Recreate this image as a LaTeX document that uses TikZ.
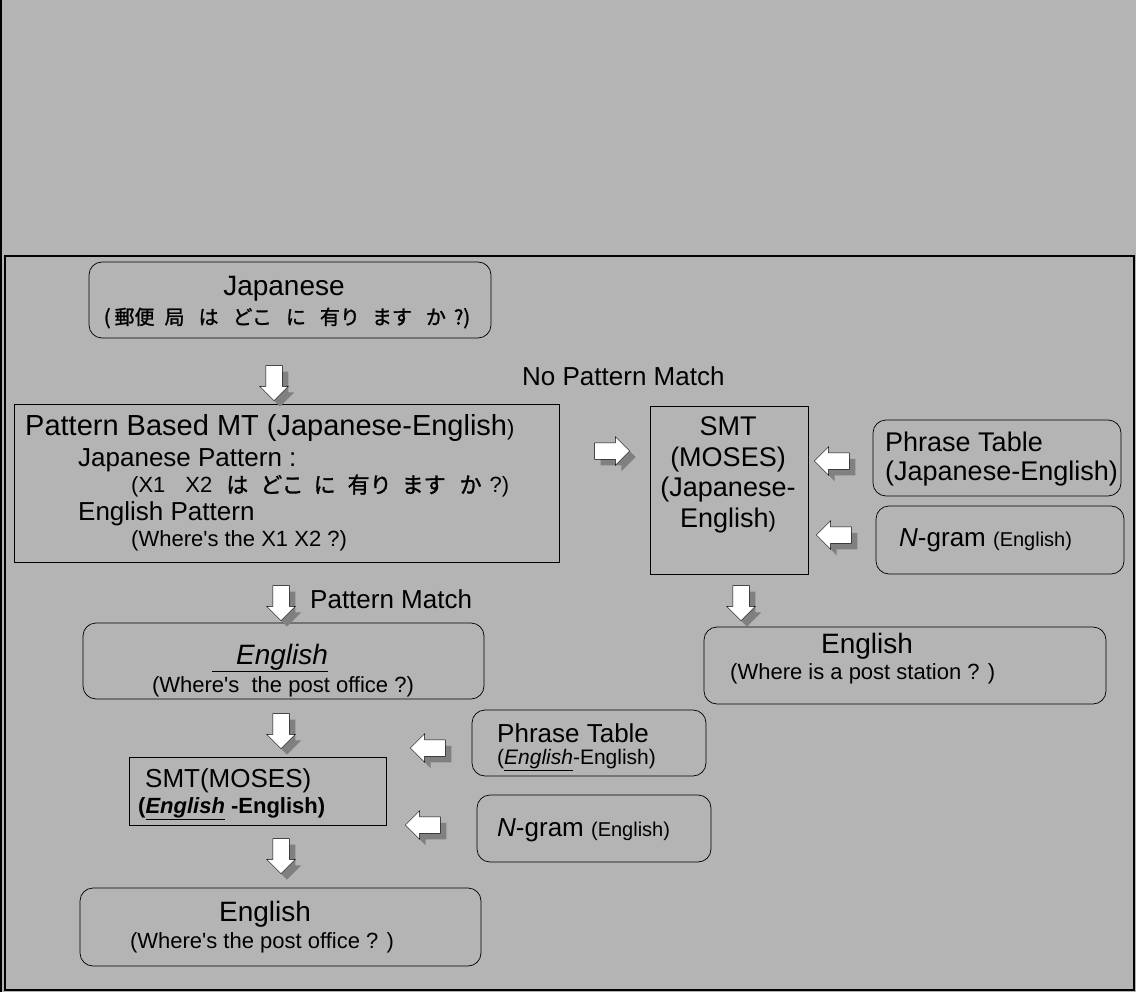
\documentclass[tikz,border=0pt]{standalone}
\usepackage{fontspec}
\setmainfont{Liberation Sans}
\newfontfamily\jpfont{Noto Sans CJK JP}[FakeBold=1.3]
\usepackage{tikz}
\usetikzlibrary{shapes.arrows,shadows}
\definecolor{bggray}{RGB}{180,180,180}
\newcommand{\apos}{\textquotesingle}

\begin{document}
\begin{tikzpicture}[
x=1pt, y=-1pt,
sharpbox/.style={draw, line width=0.7pt, inner sep=0pt},
softbox/.style={draw, line width=0.7pt, inner sep=0pt, rounded corners=13pt},
bigtxt/.style={font=\fontsize{28}{31}\selectfont, inner sep=0pt},
midtxt/.style={font=\fontsize{26}{29}\selectfont, inner sep=0pt},
smalltxt/.style={font=\fontsize{22}{25}\selectfont, inner sep=0pt},
blockarrow/.style={single arrow, draw=black, fill=white, line width=0.5pt,
  inner sep=8pt, minimum height=35pt,
  single arrow head extend=6pt, single arrow head indent=0pt,
  drop shadow={shadow xshift=6pt, shadow yshift=-6pt, fill=black!50, draw=none, opacity=1}},
downarrow/.style={blockarrow, shape border rotate=270},
leftarrow/.style={blockarrow, shape border rotate=180},
rightarrow/.style={blockarrow, shape border rotate=0} ]

\useasboundingbox (0,0) rectangle (1136,992);
\fill[bggray] (0,0) rectangle (1136,992);
\draw[line width=2pt] (1,0) -- (1,992);
\draw[line width=1.3pt] (5,256) rectangle (1134,990);

% boxes
\node[softbox, minimum width=402pt, minimum height=76pt] (jpbox) at (290,300) {};
\node[sharpbox, minimum width=545pt, minimum height=158pt] (pbmt) at (286.5,483) {};
\node[sharpbox, minimum width=158pt, minimum height=168pt] (smtje) at (729,490) {};
\node[softbox, minimum width=248pt, minimum height=76pt] (ptje) at (997,458) {};
\node[softbox, minimum width=248pt, minimum height=68pt] (ngje) at (1000,540) {};
\node[softbox, minimum width=402pt, minimum height=77pt] (enpost) at (905,665.5) {};
\node[softbox, minimum width=401pt, minimum height=76pt] (enmid) at (283.5,661) {};
\node[sharpbox, minimum width=257pt, minimum height=68pt] (smtee) at (257.5,791) {};
\node[softbox, minimum width=234pt, minimum height=66pt] (ptee) at (589,743) {};
\node[softbox, minimum width=234pt, minimum height=67pt] (ngee) at (594,828.5) {};
\node[softbox, minimum width=401pt, minimum height=78pt] (enout) at (280.5,927) {};

% texts
\node[bigtxt] (jptitle) at (284,289) {Japanese};
\node[font=\jpfont\fontsize{20}{24}\selectfont, inner sep=0pt] (jpline) at (287,318)
  {(\hspace{4pt}郵便\hspace{10pt}局\hspace{14pt}は\hspace{14pt}どこ\hspace{14pt}に\hspace{14pt}有り\hspace{12pt}ます\hspace{14pt}か\hspace{8pt}?)};
\node[midtxt, anchor=west] (nomatch) at (522,376) {No Pattern Match};
\node[font=\fontsize{29}{32}\selectfont, inner sep=0pt, anchor=west] (pbtitle) at (25,428)
  {Pattern Based MT (Japanese-English{\fontsize{22}{25}\selectfont)}};
\node[midtxt, anchor=west] (jppat) at (78,460) {Japanese Pattern :};
\node[smalltxt, anchor=west] (jppatx) at (131,486)
  {(X1\hspace{20pt}X2\hspace{14pt}{\jpfont は\hspace{12pt}どこ\hspace{10pt}に\hspace{12pt}有り\hspace{10pt}ます\hspace{14pt}か}\hspace{8pt}?)};
\node[midtxt, anchor=west] (enpat) at (78,514) {English Pattern};
\node[smalltxt, anchor=west] (enpatx) at (131,541) {(Where\apos s the X1 X2 ?)};

\node[font=\fontsize{27}{30.5}\selectfont, inner sep=0pt, align=center] (smtjet) at (728,475)
  {SMT\\(MOSES)\\(Japanese-\\English{\fontsize{22}{25}\selectfont)}};
\node[font=\fontsize{27}{29}\selectfont, inner sep=0pt, align=left, anchor=west] (ptjet) at (885,459.5)
  {Phrase Table\\(Japanese-English)};
\node[inner sep=0pt, anchor=west] (ngjet) at (899,540)
  {\fontsize{26}{29}\selectfont\textit{N}-gram {\fontsize{20}{24}\selectfont(English)}};

\node[bigtxt] (enpostt) at (867,646) {English};
\node[smalltxt, anchor=west] (enpostx) at (730,674) {(Where is a post station ? )};

\node[midtxt, anchor=west] (match) at (310,599) {Pattern Match};
\node[bigtxt] (enmidt) at (270,658) {\underline{\hspace{24pt}\textit{English}}};
\node[smalltxt] (enmidx) at (283,687) {(Where\apos s\ \ the post office ?)};

\node[midtxt, anchor=west] (smteet) at (145,781) {SMT(MOSES)};
\node[smalltxt, anchor=west] (smteex) at (138,809)
  {\bfseries(\underline{\textit{English}} -English)};
\node[midtxt, anchor=west] (pteet) at (497,733) {Phrase Table};
\node[font=\fontsize{21}{24}\selectfont, inner sep=0pt, anchor=west] (pteex) at (497,760)
  {(\underline{\textit{English}}-English)};
\node[inner sep=0pt, anchor=west] (ngeet) at (497,830)
  {\fontsize{26}{29}\selectfont\textit{N}-gram {\fontsize{20}{24}\selectfont(English)}};

\node[bigtxt] (enoutt) at (265,914) {English};
\node[smalltxt] (enoutx) at (262,943) {(Where\apos s the post office ? )};

% block arrows
\node[downarrow] (a1) at (274,379) {};
\node[rightarrow] (a2) at (608,451) {};
\node[leftarrow] (a3) at (836,461) {};
\node[leftarrow] (a4) at (838,535) {};
\node[downarrow] (a5) at (741,599) {};
\node[downarrow] (a6) at (281,599) {};
\node[downarrow] (a7) at (281,727) {};
\node[leftarrow] (a8) at (432,748) {};
\node[leftarrow] (a9) at (427,825) {};
\node[downarrow] (a10) at (281,852) {};

\end{tikzpicture}
\end{document}
